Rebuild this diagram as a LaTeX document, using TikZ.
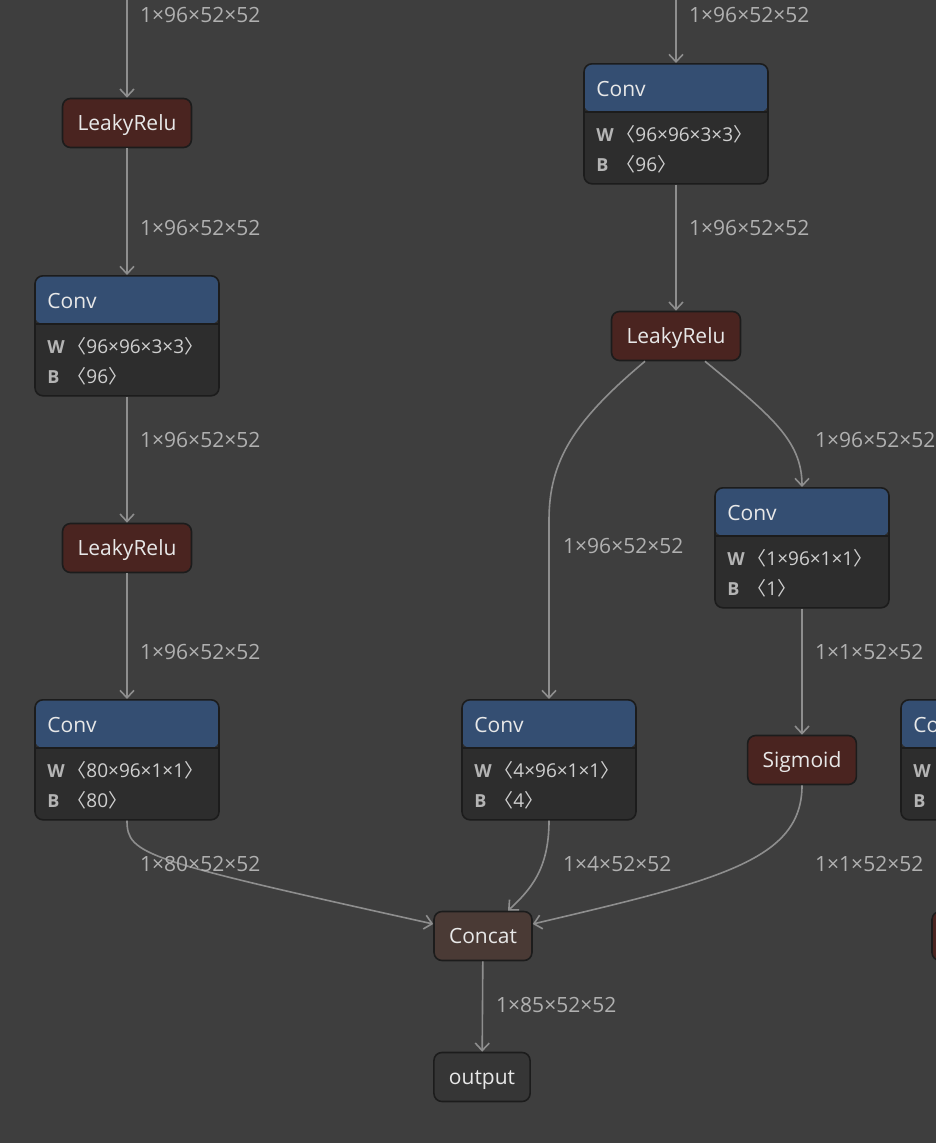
\documentclass[tikz,border=0pt]{standalone}
\usepackage{fontspec}
\setmainfont{Open Sans}
\newfontfamily\cjk{Noto Sans CJK SC}
\usetikzlibrary{arrows.meta}

\definecolor{bgcol}{HTML}{3E3E3E}
\definecolor{headcol}{HTML}{344E72}
\definecolor{bodycol}{HTML}{2D2D2D}
\definecolor{rimcol}{HTML}{1C1C1C}
\definecolor{actcol}{HTML}{4A2420}
\definecolor{catcol}{HTML}{4A3A35}
\definecolor{outcol}{HTML}{363636}
\definecolor{titlecol}{HTML}{E8E8E8}
\definecolor{keycol}{HTML}{B4B4B4}
\definecolor{valcol}{HTML}{CFCFCF}
\definecolor{flowcol}{HTML}{8E8E8E}
\definecolor{lblcol}{HTML}{B0B0B0}

\newcommand{\dims}[1]{{\cjk 〈}#1{\cjk 〉}}
% conv block: name, x, top y, width, W, B
\newcommand{\convnode}[6]{%
  \node[convbox, minimum width=#4, anchor=north] (#1) at (#2,#3) {};
  \node[convtitle] (#1-title) at ([xshift=13,yshift=-26]#1.north west) {Conv};
  \node[convkey] (#1-wk) at ([xshift=13,yshift=-72]#1.north west) {W};
  \node[convval] (#1-wv) at ([xshift=33,yshift=-72]#1.north west) {#5};
  \node[convkey] (#1-bk) at ([xshift=13,yshift=-102]#1.north west) {B};
  \node[convval] (#1-bv) at ([xshift=33,yshift=-102]#1.north west) {#6};
}

\begin{document}
\begin{tikzpicture}[x=1pt,y=-1pt,
  bigtxt/.style={font=\fontsize{21}{25}\selectfont},
  convbox/.style={draw=rimcol, line width=1.6pt, fill=bodycol, rounded corners=8pt,
    minimum height=120, inner sep=0,
    path picture={\fill[headcol] (path picture bounding box.north west) rectangle
      ([yshift=-48]path picture bounding box.north east);
      \draw[rimcol, line width=1.6pt] ([yshift=-48]path picture bounding box.north west) --
      ([yshift=-48]path picture bounding box.north east);}},
  convtitle/.style={bigtxt, text=titlecol, anchor=west, inner sep=0, text height=15, text depth=0},
  convkey/.style={font=\fontsize{18}{21}\selectfont\bfseries, text=keycol, anchor=west,
    inner sep=0, text height=12.5, text depth=0},
  convval/.style={font=\fontsize{19}{22}\selectfont, text=valcol, anchor=west,
    inner sep=0, text height=13, text depth=0},
  opbox/.style={draw=rimcol, line width=1.6pt, rounded corners=8pt, bigtxt, text=titlecol,
    minimum height=49, inner xsep=15, text height=15, text depth=0},
  actbox/.style={opbox, fill=actcol},
  lbl/.style={bigtxt, text=lblcol, anchor=west, inner sep=0, text height=15, text depth=0},
  flow/.style={draw=flowcol, line width=1.6pt, -{Straight Barb[length=7.5pt,width=14pt]}}]

  \fill[bgcol] (0,0) rectangle (936,1143);
  \useasboundingbox (0,0) rectangle (936,1143);
  \clip (0,0) rectangle (936,1143);

  % left branch
  \coordinate (topl) at (127,-5);
  \node[actbox] (lr1) at (127,123) {LeakyRelu};
  \convnode{conv1}{127}{275}{184}{\dims{96×96×3×3}}{\dims{96}}
  \node[actbox] (lr2) at (127,548) {LeakyRelu};
  \convnode{conv3}{127}{699}{184}{\dims{80×96×1×1}}{\dims{80}}

  % middle branch
  \coordinate (topm) at (676,-5);
  \convnode{conv2}{676}{63}{184}{\dims{96×96×3×3}}{\dims{96}}
  \node[actbox] (lr3) at (676,336) {LeakyRelu};
  \convnode{conv4}{549}{699}{174}{\dims{4×96×1×1}}{\dims{4}}
  \convnode{conv5}{802}{487}{174}{\dims{1×96×1×1}}{\dims{1}}
  \node[actbox] (sig) at (802,760) {Sigmoid};

  % cut off at the right border
  \convnode{convr}{993}{699}{184}{}{}
  \node[actbox, minimum width=130] (lrr) at (997,936) {};

  % merge
  \node[opbox, fill=catcol] (cat) at (483,936) {Concat};
  \node[opbox, fill=outcol] (out) at (482,1077) {output};

  \draw[flow] (topl) -- (lr1);
  \draw[flow] (lr1) -- (conv1);
  \draw[flow] (conv1) -- (lr2);
  \draw[flow] (lr2) -- (conv3);
  \draw[flow] (conv3.south) .. controls (127,855) and (145,860) .. ([yshift=12]cat.west);
  \draw[flow] (topm) -- (conv2);
  \draw[flow] (conv2) -- (lr3);
  \draw[flow] ([xshift=-31]lr3.south) .. controls (575,420) and (549,460) .. (549,520) -- (conv4.north);
  \draw[flow] ([xshift=29]lr3.south) .. controls (770,415) and (802,440) .. (conv5.north);
  \draw[flow] (conv5) -- (sig);
  \draw[flow] (conv4.south) .. controls (549,870) and (530,890) .. ([xshift=25]cat.north);
  \draw[flow] (sig.south) .. controls (802,860) and (720,880) .. ([yshift=12]cat.east);
  \draw[flow] (cat) -- (out);

  \node[lbl] (l1) at (140,15) {1×96×52×52};
  \node[lbl] (l2) at (140,228) {1×96×52×52};
  \node[lbl] (l3) at (140,440) {1×96×52×52};
  \node[lbl] (l4) at (140,652) {1×96×52×52};
  \node[lbl] (l5) at (140,864) {1×80×52×52};
  \node[lbl] (l6) at (689,15) {1×96×52×52};
  \node[lbl] (l7) at (689,228) {1×96×52×52};
  \node[lbl] (l8) at (815,440) {1×96×52×52};
  \node[lbl] (l9) at (563,546) {1×96×52×52};
  \node[lbl] (l10) at (815,652) {1×1×52×52};
  \node[lbl] (l11) at (563,864) {1×4×52×52};
  \node[lbl] (l12) at (815,864) {1×1×52×52};
  \node[lbl] (l13) at (496,1005) {1×85×52×52};
\end{tikzpicture}
\end{document}
